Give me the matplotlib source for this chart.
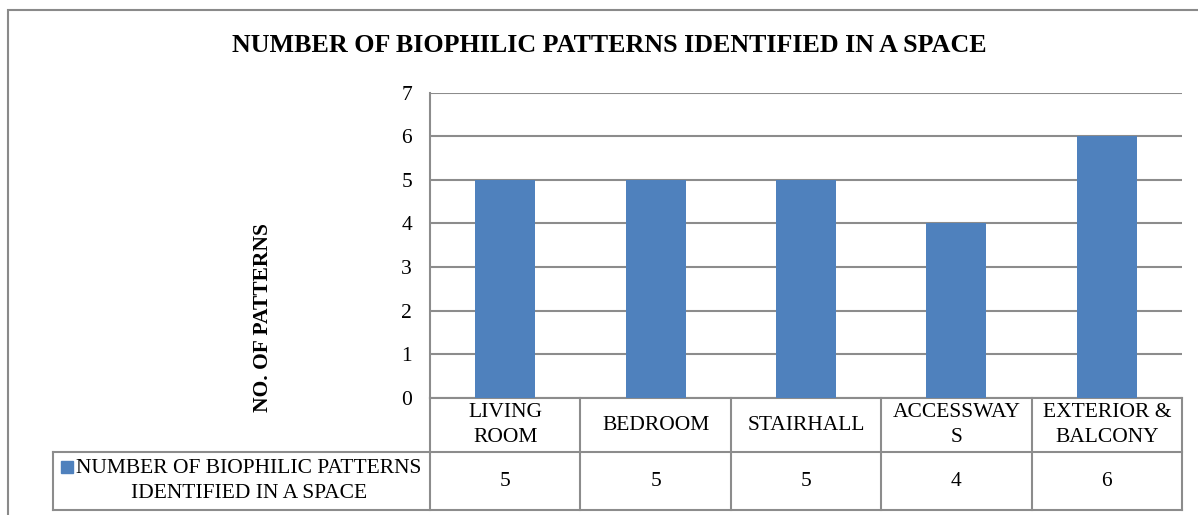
import matplotlib
matplotlib.use("Agg")
import matplotlib.pyplot as plt
import matplotlib.transforms as mtransforms
from matplotlib.patches import Rectangle

# data
spaces = ["LIVING\nROOM", "BEDROOM", "STAIRHALL", "ACCESSWAY\nS", "EXTERIOR &\nBALCONY"]
patterns = [5, 5, 5, 4, 6]
series_name = "NUMBER OF BIOPHILIC PATTERNS\nIDENTIFIED IN A SPACE"
title = "NUMBER OF BIOPHILIC PATTERNS IDENTIFIED IN A SPACE"
ylabel = "NO. OF PATTERNS"
yticks = [0, 1, 2, 3, 4, 5, 6, 7]

bar_color = "#4F81BD"
line_color = "#8C8C8C"
W, H = 1198, 515
fs = 15.5

plt.rcParams["font.family"] = ["Liberation Serif", "DejaVu Serif"]

fig = plt.figure(figsize=(W / 100, H / 100), dpi=100)

# outer chart border (left and top visible, rest runs off the picture)
fig.patches.append(Rectangle((8 / W, -0.1), 1.2, 1 - 10 / H + 0.1, transform=fig.transFigure,
                             fill=False, edgecolor="#8A8A8A", linewidth=1.5))

ax = fig.add_axes([430 / W, 1 - 398 / H, 752 / W, (398 - 92.5) / H])
x = list(range(len(spaces)))
ax.bar(x, patterns, width=0.4, color=bar_color, zorder=3)
ax.set_xlim(-0.5, len(spaces) - 0.5)
ax.set_ylim(0, 7)
ax.set_yticks(yticks)
ax.set_xticks([])
ax.tick_params(axis="y", length=0, pad=13, labelsize=fs)
ax.grid(axis="y", color=line_color, linewidth=1.5, zorder=0)
for s in ["top", "right", "bottom"]:
    ax.spines[s].set_visible(False)
ax.spines["left"].set_color(line_color)
ax.spines["left"].set_linewidth(1.5)

# data table below the plot
ax_h = 398 - 92.5
y_head = -(452 - 398) / ax_h
y_bot = -(510 - 398) / ax_h
leg_x = (53 - 430) / 752
blend = mtransforms.blended_transform_factory(ax.transData, ax.transAxes)
lw = 1.5
for i in range(len(spaces) + 1):
    ax.plot([i - 0.5, i - 0.5], [0, y_bot], transform=blend, color=line_color, lw=lw, clip_on=False)
ax.plot([-0.5, len(spaces) - 0.5], [0, 0], transform=blend, color=line_color, lw=lw, clip_on=False)
ax.plot([leg_x, 1], [y_head, y_head], transform=ax.transAxes, color=line_color, lw=lw, clip_on=False)
ax.plot([leg_x, 1], [y_bot, y_bot], transform=ax.transAxes, color=line_color, lw=lw, clip_on=False)
ax.plot([leg_x, leg_x], [y_head, y_bot], transform=ax.transAxes, color=line_color, lw=lw, clip_on=False)

y_lab = -(425 - 398) / ax_h
y_val = -(481 - 398) / ax_h
for i, (name, v) in enumerate(zip(spaces, patterns)):
    ax.text(i, y_lab, name, transform=blend, ha="center", va="center", fontsize=fs,
            linespacing=1.4, multialignment="center")
    ax.text(i, y_val, str(v), transform=blend, ha="center", va="center", fontsize=fs)

# legend key inside the table
ax.plot([(67 - 430) / 752], [-(467 - 398) / ax_h], transform=ax.transAxes, marker="s",
        markersize=8, color=bar_color, clip_on=False)
ax.text((249 - 430) / 752, y_val, series_name, transform=ax.transAxes, ha="center", va="center",
        fontsize=fs, linespacing=1.45, multialignment="center")

fig.text(609 / W, 1 - 46 / H, title, ha="center", va="center", fontsize=18.7, fontweight="bold")
fig.text(263 / W, 1 - 318 / H, ylabel, ha="center", va="center", rotation=90,
         fontsize=fs, fontweight="bold")

fig.savefig("out.png", dpi=100)
